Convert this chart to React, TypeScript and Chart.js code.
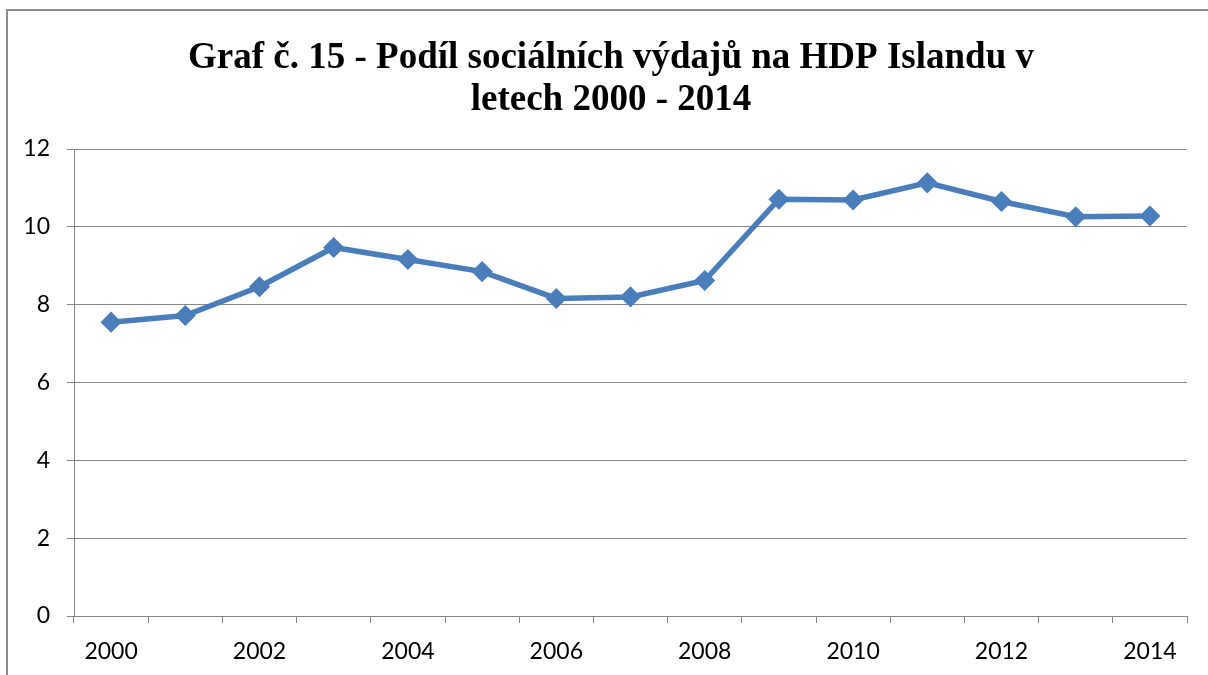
import React, { useEffect, useRef } from "react";
import { Chart, registerables } from "chart.js";

Chart.register(...registerables);

const titleLines = [
  "Graf č. 15 - Podíl sociálních výdajů na HDP Islandu v",
  "letech 2000 - 2014",
];
const years = [
  "2000", "2001", "2002", "2003", "2004", "2005", "2006", "2007",
  "2008", "2009", "2010", "2011", "2012", "2013", "2014",
];
const socialShare = [
  7.55, 7.72, 8.46, 9.47, 9.16, 8.85, 8.16, 8.2, 8.62, 10.71, 10.69, 11.13,
  10.65, 10.26, 10.28,
];
const yMin = 0;
const yMax = 12;
const yStep = 2;

const LINE_COLOR = "#4a7ebb";
const GRID_COLOR = "#868686";
const TICK_FONT = { family: "Lato, 'Open Sans', sans-serif", size: 23 };

const titlePlugin = {
  id: "customTitle",
  afterDraw(chart: any) {
    const ctx = chart.ctx;
    ctx.save();
    ctx.fillStyle = "#000";
    ctx.font = "bold 37px 'Liberation Serif', 'Times New Roman', serif";
    ctx.textAlign = "center";
    ctx.textBaseline = "alphabetic";
    const cx = 611;
    const baselines = [68, 110];
    titleLines.forEach((line, i) => ctx.fillText(line, cx, baselines[i]));
    ctx.restore();
  },
};

export default function App() {
  const canvasRef = useRef<HTMLCanvasElement | null>(null);

  useEffect(() => {
    if (!canvasRef.current) return;
    const chart = new Chart(canvasRef.current, {
      type: "line",
      data: {
        labels: years,
        datasets: [
          {
            data: socialShare,
            borderColor: LINE_COLOR,
            backgroundColor: LINE_COLOR,
            borderWidth: 5.5,
            pointStyle: "rectRot",
            pointRadius: 9.5,
            pointBorderWidth: 1.5,
            pointBackgroundColor: LINE_COLOR,
            pointBorderColor: LINE_COLOR,
            tension: 0,
          },
        ],
      },
      options: {
        animation: false,
        responsive: false,
        maintainAspectRatio: false,
        layout: { padding: { left: 14, right: 21, top: 149, bottom: 0 } },
        plugins: {
          legend: { display: false },
          title: { display: false },
          tooltip: { enabled: false },
        },
        scales: {
          x: {
            type: "category",
            offset: true,
            afterFit: (scale: any) => {
              scale.height = 59;
            },
            grid: {
              offset: true,
              drawOnChartArea: false,
              drawTicks: true,
              tickLength: 7,
              color: GRID_COLOR,
            },
            border: { display: true, color: GRID_COLOR, width: 1 },
            ticks: {
              autoSkip: false,
              maxRotation: 0,
              minRotation: 0,
              padding: 15,
              color: "#000",
              font: TICK_FONT,
              callback: (_v: any, i: number) => (i % 2 === 0 ? years[i] : ""),
            },
          },
          y: {
            min: yMin,
            max: yMax,
            afterFit: (scale: any) => {
              scale.width = 60;
            },
            grid: {
              drawOnChartArea: true,
              drawTicks: true,
              tickLength: 7,
              color: GRID_COLOR,
            },
            border: { display: true, color: GRID_COLOR, width: 1 },
            ticks: {
              stepSize: yStep,
              padding: 17,
              color: "#000",
              font: TICK_FONT,
            },
          },
        },
      },
      plugins: [titlePlugin],
    });
    return () => chart.destroy();
  }, []);

  return (
    <div
      style={{
        position: "fixed",
        left: 0,
        top: 0,
        width: 1208,
        height: 675,
        overflow: "hidden",
        background: "#fff",
      }}
    >
      <div
        style={{
          position: "absolute",
          left: 6,
          top: 9,
          width: 1400,
          height: 900,
          border: "2px solid #8c8c8c",
        }}
      />
      <canvas
        ref={canvasRef}
        width={1208}
        height={675}
        style={{ position: "absolute", left: 0, top: 0, width: 1208, height: 675 }}
      />
    </div>
  );
}
